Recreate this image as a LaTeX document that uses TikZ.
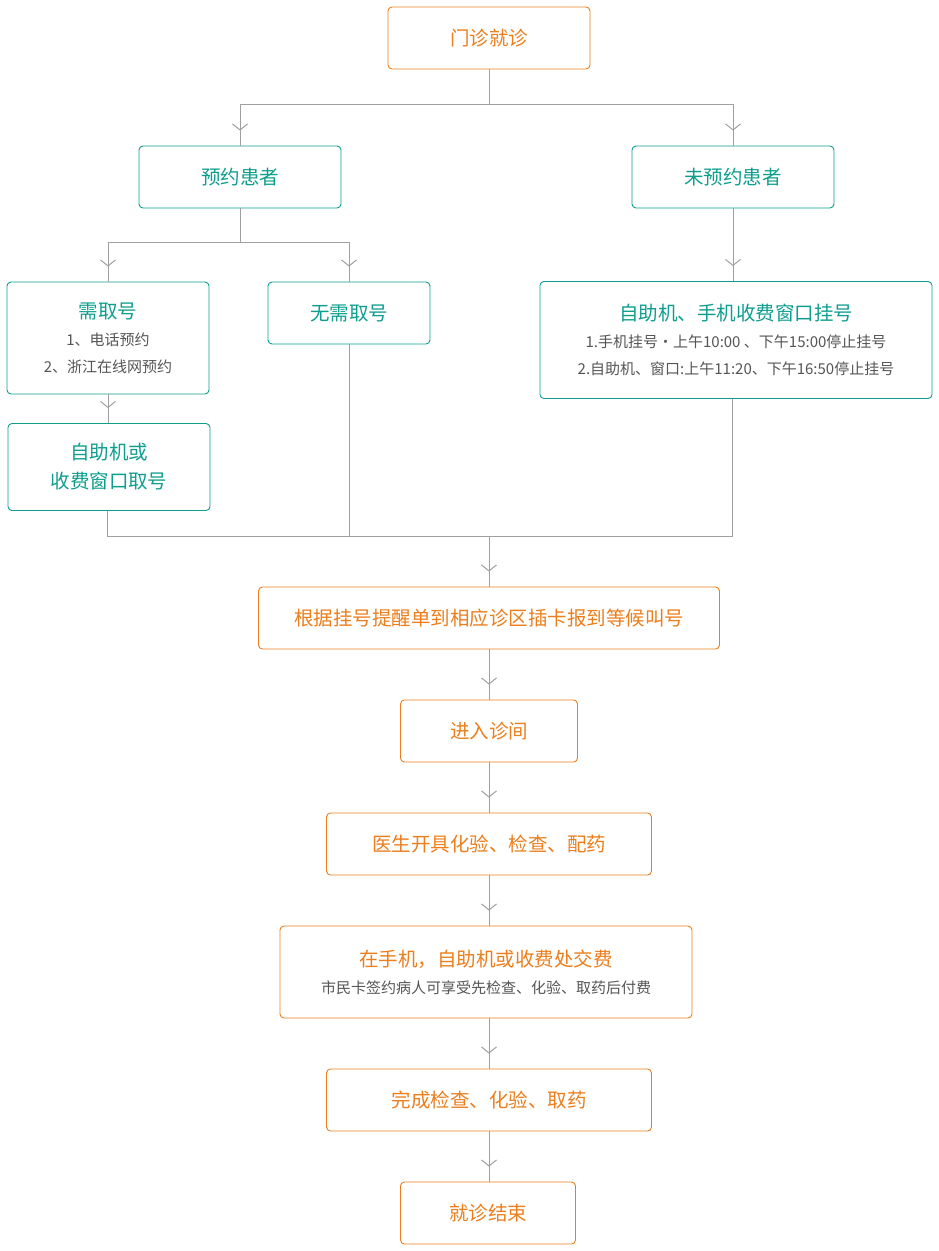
\documentclass[tikz,border=0pt]{standalone}
\usepackage{fontspec}
\setmainfont{Noto Sans CJK SC}
\usetikzlibrary{arrows.meta,decorations.markings}
\definecolor{teal}{HTML}{0E9E8E}
\definecolor{orng}{HTML}{EC7E1C}
\definecolor{txtgray}{HTML}{555555}
\definecolor{lnkgray}{HTML}{A0A0A0}
\newcommand\subtxt[1]{{\fontsize{15}{28}\selectfont\color{txtgray}#1}}
\begin{document}
\begin{tikzpicture}[x=1pt,y=-1pt,
 box/.style={rectangle,rounded corners=4pt,line width=0.9pt,fill=white,inner sep=0pt,align=center,font=\fontsize{19.5}{29}\selectfont},
 obox/.style={box,draw=orng,text=orng},
 tbox/.style={box,draw=teal,text=teal},
 link/.style={draw=lnkgray,line width=0.8pt},
 tip/.style={postaction={decorate},decoration={markings,
   mark=at position -15pt with {\arrow[lnkgray,line width=1pt]{Straight Barb[length=6pt,width=15pt]}}}} ]
\useasboundingbox (0,0) rectangle (939,1251);
% boxes
\node[obox,minimum width=202pt,minimum height=62pt] (visit) at (489,38) {门诊就诊};
\node[tbox,minimum width=202pt,minimum height=62pt] (booked) at (240,177) {预约患者};
\node[tbox,minimum width=202pt,minimum height=62pt] (unbooked) at (733,177) {未预约患者};
\node[tbox,minimum width=202pt,minimum height=112pt] (need) at (108,338)
 {需取号\\[-2pt]\subtxt{1、电话预约}\\[-2pt]\subtxt{2、浙江在线网预约}};
\node[tbox,minimum width=162pt,minimum height=62pt] (noneed) at (349,313) {无需取号};
\node[tbox,minimum width=392pt,minimum height=117pt] (selfreg) at (736,340)
 {自助机、手机收费窗口挂号\\[-2pt]\subtxt{1.手机挂号·上午10:00 、下午15:00停止挂号}\\[-2pt]\subtxt{2.自助机、窗口:上午11:20、下午16:50停止挂号}};
\node[tbox,minimum width=202pt,minimum height=87pt] (fetch) at (109,467) {自助机或\\收费窗口取号};
\node[obox,minimum width=461pt,minimum height=62pt] (wait) at (489,618) {根据挂号提醒单到相应诊区插卡报到等候叫号};
\node[obox,minimum width=177pt,minimum height=62pt] (room) at (489,731) {进入诊间};
\node[obox,minimum width=325pt,minimum height=62pt] (doctor) at (489,844) {医生开具化验、检查、配药};
\node[obox,minimum width=412pt,minimum height=92pt] (pay) at (486,972)
 {在手机，自助机或收费处交费\\[-2pt]\subtxt{市民卡签约病人可享受先检查、化验、取药后付费}};
\node[obox,minimum width=325pt,minimum height=62pt] (done) at (489,1100) {完成检查、化验、取药};
\node[obox,minimum width=175pt,minimum height=62pt] (finish) at (488,1213) {就诊结束};
% bus points
\coordinate (split1) at (489,104);
\coordinate (split2) at (240,242);
\coordinate (merge) at (489,536);
\coordinate (mergeL) at (107,536);
\coordinate (mergeR) at (732,536);
% connectors
\draw[link] (visit) -- (split1);
\draw[link,tip] (split1) -| (booked.north);
\draw[link,tip] (split1) -| (unbooked.north);
\draw[link] (booked) -- (split2);
\draw[link,tip] (split2) -| (need.north);
\draw[link,tip] (split2) -| (noneed.north);
\draw[link,tip] (unbooked) -- (unbooked|-selfreg.north);
\draw[link,tip] (need.south) -- (need.south|-fetch.north);
\draw[link] (fetch.south-|mergeL) -- (mergeL) -- (mergeR) -- (mergeR|-selfreg.south);
\draw[link] (noneed.south) -- (noneed.south|-merge);
\draw[link,tip] (merge) -- (wait.north);
\draw[link,tip] (wait) -- (room);
\draw[link,tip] (room) -- (doctor);
\draw[link,tip] (doctor) -- (doctor.south|-pay.north);
\draw[link,tip] (pay.south-|doctor) -- (done);
\draw[link,tip] (done) -- (done.south|-finish.north);
\end{tikzpicture}
\end{document}
